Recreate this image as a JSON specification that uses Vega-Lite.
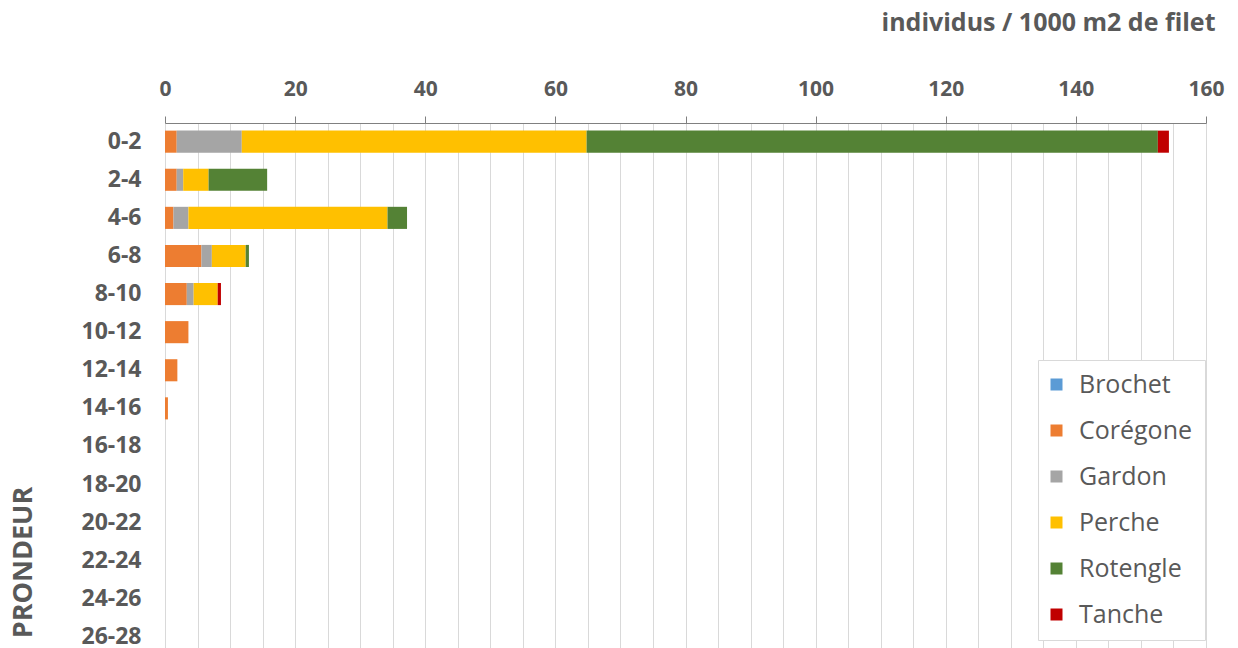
{
  "$schema": "https://vega.github.io/schema/vega-lite/v6.json",
  "width": 1041,
  "height": 525,
  "autosize": {"type": "none"},
  "padding": {"left": 165, "top": 123, "right": 32, "bottom": 0},
  "background": "white",
  "config": {"view": {"stroke": null}, "font": "Open Sans"},
  "data": {
    "values": [
      {"depth": "0-2", "species": "Corégone", "value": 1.8},
      {"depth": "0-2", "species": "Gardon", "value": 10.0},
      {"depth": "0-2", "species": "Perche", "value": 53.0},
      {"depth": "0-2", "species": "Rotengle", "value": 87.8},
      {"depth": "0-2", "species": "Tanche", "value": 1.7},
      {"depth": "2-4", "species": "Corégone", "value": 1.8},
      {"depth": "2-4", "species": "Gardon", "value": 1.0},
      {"depth": "2-4", "species": "Perche", "value": 3.9},
      {"depth": "2-4", "species": "Rotengle", "value": 9.0},
      {"depth": "4-6", "species": "Corégone", "value": 1.3},
      {"depth": "4-6", "species": "Gardon", "value": 2.3},
      {"depth": "4-6", "species": "Perche", "value": 30.6},
      {"depth": "4-6", "species": "Rotengle", "value": 3.0},
      {"depth": "6-8", "species": "Corégone", "value": 5.6},
      {"depth": "6-8", "species": "Gardon", "value": 1.6},
      {"depth": "6-8", "species": "Perche", "value": 5.2},
      {"depth": "6-8", "species": "Rotengle", "value": 0.5},
      {"depth": "8-10", "species": "Corégone", "value": 3.35},
      {"depth": "8-10", "species": "Gardon", "value": 1.05},
      {"depth": "8-10", "species": "Perche", "value": 3.7},
      {"depth": "8-10", "species": "Tanche", "value": 0.5},
      {"depth": "10-12", "species": "Corégone", "value": 3.6},
      {"depth": "12-14", "species": "Corégone", "value": 1.9},
      {"depth": "14-16", "species": "Corégone", "value": 0.45}
    ]
  },
  "mark": {"type": "bar"},
  "encoding": {
    "y": {
      "field": "depth",
      "type": "nominal",
      "scale": {
        "domain": ["0-2", "2-4", "4-6", "6-8", "8-10", "10-12", "12-14", "14-16", "16-18", "18-20", "20-22", "22-24", "24-26", "26-28"],
        "paddingInner": 0.42,
        "paddingOuter": 0.1,
        "align": 1
      },
      "axis": {
        "title": "PRONDEUR",
        "titleFont": "Open Sans",
        "titleFontSize": 27,
        "titleFontWeight": "bold",
        "titleColor": "#595959",
        "titleAngle": -90,
        "titleX": -142,
        "titleY": 439,
        "titleAlign": "center",
        "titleBaseline": "middle",
        "labelFont": "Open Sans",
        "labelFontSize": 23,
        "labelFontWeight": "bold",
        "labelColor": "#595959",
        "labelPadding": 24,
        "ticks": false,
        "domain": false
      }
    },
    "x": {
      "field": "value",
      "type": "quantitative",
      "stack": "zero",
      "scale": {"domain": [0, 160], "nice": false},
      "axis": {
        "orient": "top",
        "values": [0, 5, 10, 15, 20, 25, 30, 35, 40, 45, 50, 55, 60, 65, 70, 75, 80, 85, 90, 95, 100, 105, 110, 115, 120, 125, 130, 135, 140, 145, 150, 155, 160],
        "labelExpr": "datum.value % 20 === 0 ? datum.label : ''",
        "labelOverlap": false,
        "labelFlush": false,
        "labelBound": false,
        "labelFont": "Open Sans",
        "labelFontSize": 21,
        "labelFontWeight": "bold",
        "labelColor": "#595959",
        "labelBaseline": "alphabetic",
        "labelPadding": 21,
        "tickSize": 7,
        "tickColor": "#808080",
        "tickOpacity": {"condition": {"test": "datum.value % 20 === 0", "value": 1}, "value": 0},
        "domainColor": "#808080",
        "grid": true,
        "gridColor": "#d9d9d9",
        "title": "individus / 1000 m2 de filet",
        "titleFont": "Open Sans",
        "titleFontSize": 25,
        "titleFontWeight": "bold",
        "titleColor": "#595959",
        "titleX": 1050,
        "titleY": -101,
        "titleAlign": "right",
        "titleBaseline": "middle",
        "titleAnchor": "end"
      }
    },
    "color": {
      "field": "species",
      "type": "nominal",
      "scale": {
        "domain": ["Brochet", "Corégone", "Gardon", "Perche", "Rotengle", "Tanche"],
        "range": ["#5B9BD5", "#ED7D31", "#A5A5A5", "#FFC000", "#548235", "#C00000"]
      },
      "legend": {
        "title": null,
        "orient": "none",
        "legendX": 873,
        "legendY": 237,
        "padding": 12,
        "strokeColor": "#d9d9d9",
        "fillColor": "white",
        "symbolType": "square",
        "symbolSize": 144,
        "symbolStrokeWidth": 0,
        "symbolOffset": -6,
        "labelFont": "Open Sans",
        "labelFontSize": 25,
        "labelColor": "#595959",
        "labelOffset": 10,
        "rowPadding": 20
      }
    }
  }
}
